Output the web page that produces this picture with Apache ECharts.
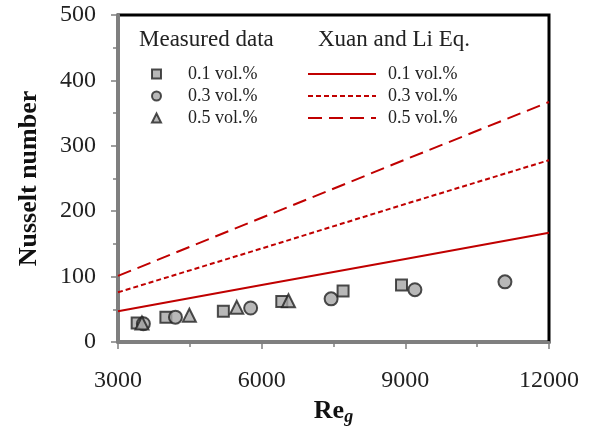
<!DOCTYPE html>
<html lang="en">
<head>
    <meta charset="UTF-8">
    <title>Nusselt number</title>
    <script src="https://cdn.jsdelivr.net/npm/echarts@6/dist/echarts.min.js"></script>
</head>
<body style="margin:0">
<div id="chart" style="width:591px;height:429px"></div>
<script>
    // measured data [Re_g, Nu]
    var meas01 = [[3400, 29], [4000, 38], [5200, 47], [6420, 62], [7700, 78], [8920, 87]];
    var meas03 = [[3530, 28], [4200, 38], [5770, 52], [7450, 66], [9200, 80], [11080, 92]];
    var meas05 = [[3500, 29], [4490, 41], [5480, 53], [6560, 63]];
    // Xuan and Li equation
    var xuan01 = [[3000, 47], [6000, 87], [9000, 127], [12000, 167]];
    var xuan03 = [[3000, 76], [6000, 143], [9000, 211], [12000, 278]];
    var xuan05 = [[3000, 101], [6000, 190], [9000, 279], [12000, 367]];
    var volNames = ['0.1 vol.%', '0.3 vol.%', '0.5 vol.%'];

    var serif = '"Liberation Serif", "Times New Roman", serif';
    var red = '#c00000';
    var markerStyle = {color: '#a6a6a6', borderColor: '#222', borderWidth: 2};

    function stripName(n) { return n.substring(1); }

    var chart = echarts.init(document.getElementById('chart'));
    var option = {
        animation: false,
        grid: {left: 118, right: 42, top: 15, bottom: 87, show: true, outerBoundsMode: 'none',
            containLabel: false, borderColor: '#000', borderWidth: 3},
        graphic: [
            {type: 'text', left: 139, top: 28, style: {text: 'Measured data', font: '23px ' + serif, fill: '#222'}},
            {type: 'text', left: 318, top: 28, style: {text: 'Xuan and Li Eq.', font: '23px ' + serif, fill: '#222'}}
        ],
        legend: [
            {
                data: ['m' + volNames[0], 'm' + volNames[1], 'm' + volNames[2]],
                orient: 'vertical', left: 146, top: 60, itemWidth: 9, itemHeight: 9, itemGap: 4,
                formatter: stripName,
                textStyle: {fontFamily: serif, fontSize: 18, color: '#222', padding: [0, 0, 0, 22]}
            },
            {
                data: ['x' + volNames[0], 'x' + volNames[1], 'x' + volNames[2]],
                orient: 'vertical', left: 302, top: 60, itemWidth: 68, itemHeight: 11, itemGap: 4,
                formatter: stripName,
                itemStyle: {opacity: 0},
                textStyle: {fontFamily: serif, fontSize: 18, color: '#222', padding: [0, 0, 0, 7]}
            }
        ],
        xAxis: {
            type: 'value', min: 3000, max: 12000, interval: 3000,
            name: 'Re{s|g}', nameLocation: 'middle', nameGap: 48,
            nameTextStyle: {fontFamily: serif, fontSize: 26, fontWeight: 'bold', color: '#111',
                rich: {s: {fontFamily: serif, fontSize: 18, fontWeight: 'bold', fontStyle: 'italic',
                    color: '#111', padding: [12, 0, 0, 0]}}},
            axisLine: {lineStyle: {color: '#7f7f7f', width: 3}},
            axisTick: {length: 7, lineStyle: {color: '#7f7f7f', width: 1.5}},
            minorTick: {show: true, splitNumber: 2, length: 5, lineStyle: {color: '#7f7f7f', width: 1.5}},
            axisLabel: {fontFamily: serif, fontSize: 24, color: '#222', margin: 27,
                formatter: function (v) { return String(v); }},
            splitLine: {show: false}
        },
        yAxis: {
            type: 'value', min: 0, max: 500, interval: 100,
            name: 'Nusselt number', nameLocation: 'middle', nameGap: 76,
            nameTextStyle: {fontFamily: serif, fontSize: 26, fontWeight: 'bold', color: '#111'},
            axisLine: {lineStyle: {color: '#7f7f7f', width: 3}},
            axisTick: {length: 7, lineStyle: {color: '#7f7f7f', width: 1.5}},
            minorTick: {show: true, splitNumber: 2, length: 5, lineStyle: {color: '#7f7f7f', width: 1.5}},
            axisLabel: {fontFamily: serif, fontSize: 24, color: '#222', margin: 22},
            splitLine: {show: false}
        },
        series: [
            {name: 'x' + volNames[0], type: 'line', data: xuan01, symbol: 'none', z: 2,
                lineStyle: {color: red, width: 2, type: 'solid'}, itemStyle: {color: red}},
            {name: 'x' + volNames[1], type: 'line', data: xuan03, symbol: 'none', z: 2,
                lineStyle: {color: red, width: 2, type: [5, 3]}, itemStyle: {color: red}},
            {name: 'x' + volNames[2], type: 'line', data: xuan05, symbol: 'none', z: 2,
                lineStyle: {color: red, width: 2, type: [14, 7]}, itemStyle: {color: red}},
            {name: 'm' + volNames[0], type: 'scatter', data: meas01, symbol: 'rect', symbolSize: 11,
                itemStyle: markerStyle, z: 3},
            {name: 'm' + volNames[1], type: 'scatter', data: meas03, symbol: 'circle', symbolSize: 13,
                itemStyle: markerStyle, z: 3},
            {name: 'm' + volNames[2], type: 'scatter', data: meas05, symbol: 'triangle', symbolSize: 13,
                itemStyle: markerStyle, z: 3}
        ]
    };
    chart.setOption(option);
</script>
</body>
</html>
